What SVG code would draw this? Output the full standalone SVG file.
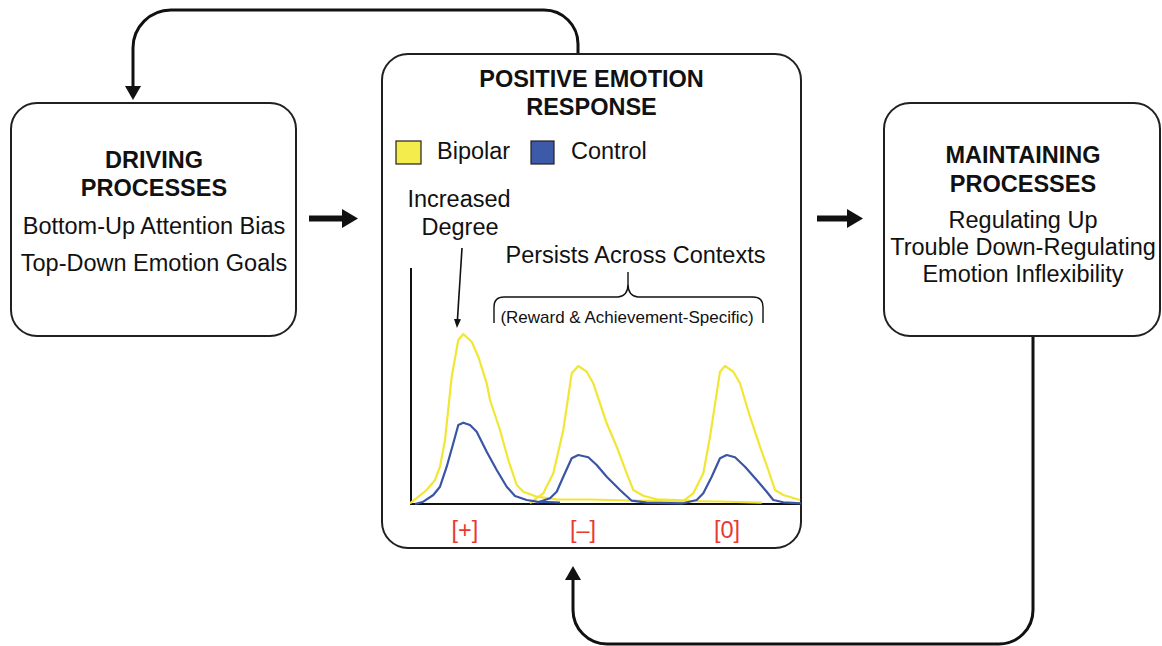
<svg xmlns="http://www.w3.org/2000/svg" width="1162" height="646" viewBox="0 0 1162 646">
<defs>
<style>
.box{fill:#fff;stroke:#231f20;stroke-width:2}
.t{font-family:"Liberation Sans",Arial,sans-serif;font-size:23.5px;fill:#111;text-anchor:middle}
.b{font-weight:bold}
.conn{fill:none;stroke:#111;stroke-width:3}
.thick{fill:none;stroke:#111;stroke-width:6}
.yel{fill:none;stroke:#f2e634;stroke-width:2.2;stroke-linejoin:round}
.blu{fill:none;stroke:#3b55a5;stroke-width:2.2;stroke-linejoin:round}
.red{fill:#e83a2f}
</style>
<marker id="ah" markerUnits="userSpaceOnUse" markerWidth="16" markerHeight="17" refX="0" refY="8" orient="auto">
<path d="M0,0 L14,8 L0,16 z" fill="#111"/>
</marker>
<marker id="ahb" markerUnits="userSpaceOnUse" markerWidth="17" markerHeight="20" refX="0" refY="9.5" orient="auto">
<path d="M0,0 L16,9.5 L0,19 z" fill="#111"/>
</marker>
<marker id="ahs" markerUnits="userSpaceOnUse" markerWidth="10" markerHeight="8" refX="0" refY="3.5" orient="auto">
<path d="M0,0 L9,3.5 L0,7 z" fill="#111"/>
</marker>
</defs>
<rect width="1162" height="646" fill="#fff"/>

<g id="connectors">
<path class="conn" d="M578,54 V44 A34,34 0 0 0 544,10 H171 A38,38 0 0 0 133,48 V86" marker-end="url(#ah)"/>
<path class="conn" d="M1033,336 V610 A34,34 0 0 1 999,644 H607 A34,34 0 0 1 573,610 V580" marker-end="url(#ah)"/>
<line class="thick" x1="309" y1="218.5" x2="342" y2="218.5" marker-end="url(#ahb)"/>
<line class="thick" x1="817" y1="218.5" x2="847" y2="218.5" marker-end="url(#ahb)"/>
</g>

<g id="driving">
<rect class="box" x="11" y="103" width="285" height="233" rx="26"/>
<text class="t b" x="154" y="168">DRIVING</text>
<text class="t b" x="154" y="196">PROCESSES</text>
<text class="t" x="154" y="234">Bottom-Up Attention Bias</text>
<text class="t" x="154" y="271">Top-Down Emotion Goals</text>
</g>

<g id="positive">
<rect class="box" x="382" y="54" width="419" height="494" rx="26"/>
<text class="t b" x="591.5" y="87">POSITIVE EMOTION</text>
<text class="t b" x="591.5" y="115">RESPONSE</text>
<rect x="396" y="141" width="25" height="23" fill="#f4ec4c" stroke="#231f20" stroke-width="1.2"/>
<text class="t" x="437" y="159" style="text-anchor:start">Bipolar</text>
<rect x="531" y="141" width="23" height="23" fill="#3d5aa8" stroke="#231f20" stroke-width="1.2"/>
<text class="t" x="571" y="159" style="text-anchor:start">Control</text>
<text class="t" x="459" y="207">Increased</text>
<text class="t" x="460" y="235">Degree</text>
<line x1="462" y1="248" x2="457.5" y2="319" stroke="#111" stroke-width="1.6" marker-end="url(#ahs)"/>
<text class="t" x="635.5" y="263">Persists Across Contexts</text>
<path d="M628,272 V284 Q628,296 618,297 H504 Q494,297 494,307 V323 M628,284 Q628,296 638,297 H753 Q763,297 763,307 V323" fill="none" stroke="#111" stroke-width="1.4"/>
<text class="t" x="627" y="323" style="font-size:17px">(Reward &amp; Achievement-Specific)</text>
<!-- axes -->
<line x1="411" y1="268" x2="411" y2="505" stroke="#111" stroke-width="2"/>
<line x1="410" y1="504" x2="801" y2="504" stroke="#111" stroke-width="2"/>
<!-- yellow curves -->
<polyline class="yel" points="410,503.3 426.7,490 435,480 440,466.7 445,440 451.7,376.7 458.3,340 463.3,334 471.7,341.7 478.3,356.7 486.7,383.3 490,400 500,430 508.3,460 516.7,485 523.3,491.7 536.7,496.7 556.7,499.3 590,499.5 630,500.5 680,501 720,501.5 761.7,502.7"/>
<polyline class="yel" points="530,503 543.3,493.3 553.3,473.3 563.3,430 571.7,373.3 578.3,366 586.7,371.7 593.3,383.3 600,403.3 606.7,423.3 616.7,446.7 626.7,473.3 633.3,490 643.3,495.7 656.7,499.3 690,500.7"/>
<polyline class="yel" points="680,503.3 693.3,493.3 703.3,473.3 710,436.7 720,371.7 725,366 733.3,371.7 740,383.3 750,416.7 760,446.7 768.3,470 775,490 783.3,495 800,500"/>
<!-- blue curves -->
<polyline class="blu" points="415,504 423.3,501.7 433.3,495 440,486.7 446.7,466.7 453.3,443.3 458.3,425 463.3,422.7 470,425 476.7,431.7 486.7,451.7 496.7,470 506.7,486.7 515,496 526.7,500 536.7,501.7 560,502.5"/>
<polyline class="blu" points="536.7,502.7 550,498.3 556.7,491.7 563.3,476.7 571.7,458.3 578.3,455 588.3,457.3 596.7,465 606.7,476.7 620,490 631.7,500.7 646.7,502.7 683.3,503.3"/>
<polyline class="blu" points="683.3,503.3 696.7,500 703.3,493.3 711.7,476.7 720,458.3 726.7,455 735,457.3 745,466.7 756.7,480 766.7,491.7 773.3,500 783.3,502.3 801,503.3"/>
<text class="t red" x="465" y="538">[+]</text>
<text class="t red" x="583" y="538">[–]</text>
<text class="t red" x="727" y="538">[0]</text>
</g>

<g id="maintaining">
<rect class="box" x="884" y="103" width="276" height="233" rx="26"/>
<text class="t b" x="1023" y="163">MAINTAINING</text>
<text class="t b" x="1023" y="192">PROCESSES</text>
<text class="t" x="1023" y="228">Regulating Up</text>
<text class="t" x="1023" y="255">Trouble Down-Regulating</text>
<text class="t" x="1023" y="282">Emotion Inflexibility</text>
</g>
</svg>
